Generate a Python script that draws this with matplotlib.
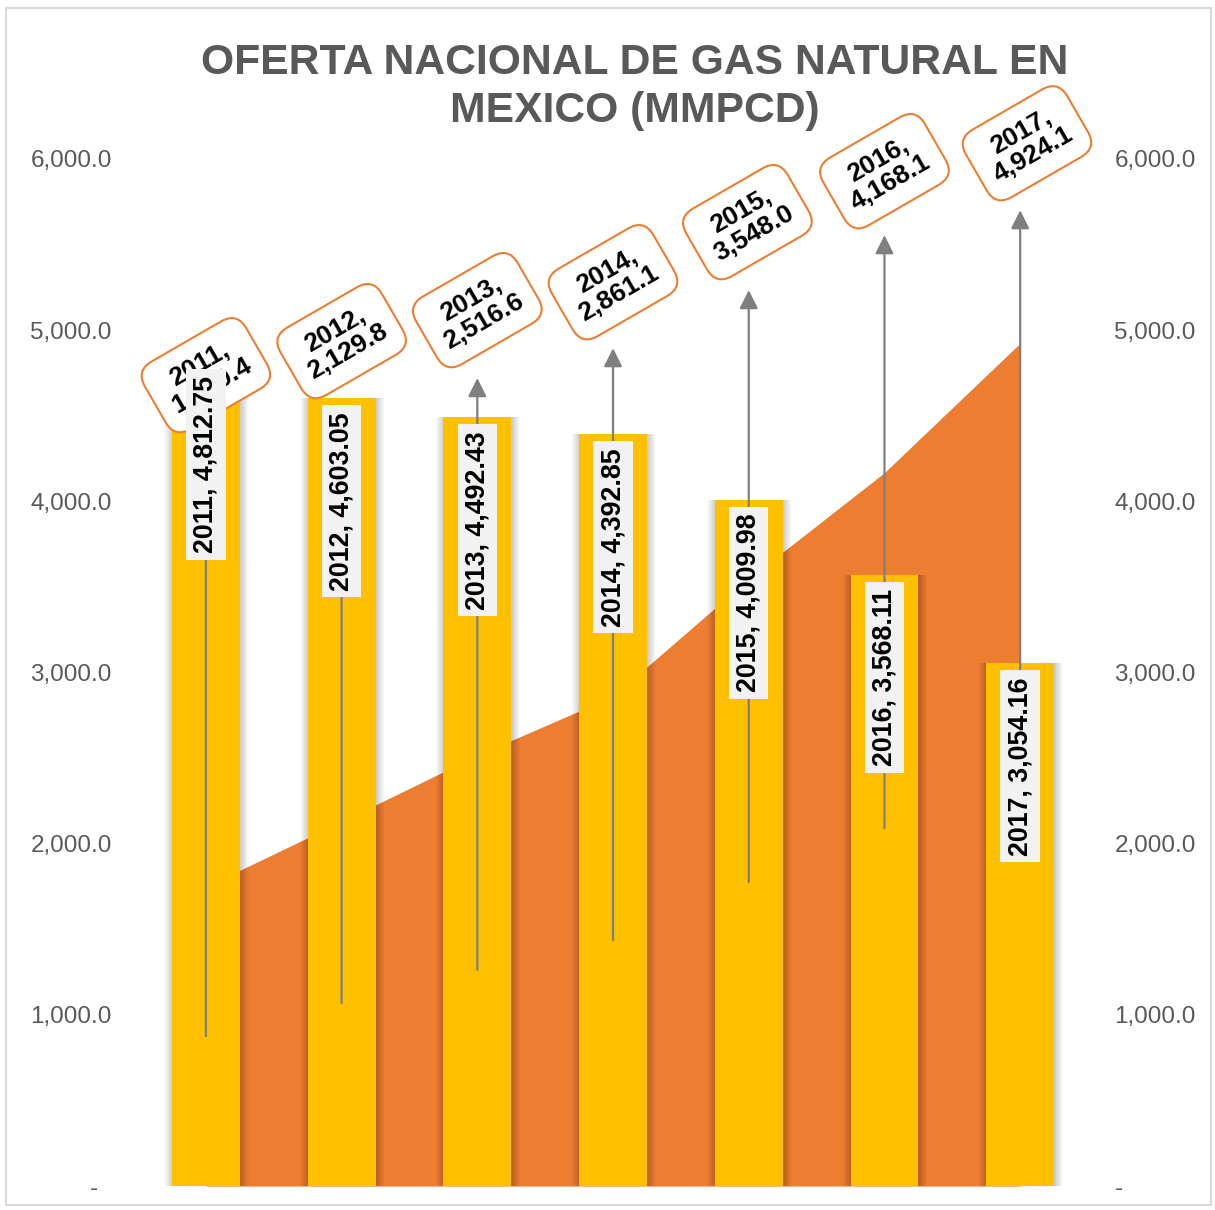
import numpy as np
import matplotlib.pyplot as plt
from matplotlib.ticker import FuncFormatter
from matplotlib.patches import Rectangle

plt.rcParams['font.family'] = ['Liberation Sans', 'DejaVu Sans']

# data
years = ['2011', '2012', '2013', '2014', '2015', '2016', '2017']
bar_values = [4812.75, 4603.05, 4492.43, 4392.85, 4009.98, 3568.11, 3054.16]
area_values = [1749.4, 2129.8, 2516.6, 2861.1, 3548.0, 4168.1, 4924.1]

# leader lines (value units) as drawn in the original
leader_low = [876, 1069, 1262, 1437, 1776, 2091, 2500]
leader_high = [None, None, 4720, 4895, 5234, 5555, 5701]
area_label_y = [4737, 4936, 5117, 5280, 5631, 5929, 6092]
area_label_dx = [0.0, 0.0, 0.0, 0.0, -0.01, 0.0, 0.05]

orange = '#ED7D31'
yellow = '#FFC000'
gray = '#595959'

fig = plt.figure(figsize=(12.15, 12.10), dpi=100)
fig.patches.append(Rectangle((0.005, 0.004), 0.992, 0.989, transform=fig.transFigure,
                             fill=False, ec='#D9D9D9', lw=1.5))
ax = fig.add_axes([0.1136, 0.0198, 0.7819, 0.8488])

x = np.arange(len(years))

# area series
ax.fill_between(x, area_values, 0, color=orange, lw=0, zorder=1)

# soft shadow behind bars
for k in range(10):
    ax.bar(x + 0.005, bar_values, width=0.5 + 0.012 * (k + 1), color='black',
           alpha=0.018, lw=0, zorder=2)
ax.bar(x, bar_values, width=0.5, color=yellow, lw=0, zorder=3)

# area labels
for i in range(len(years)):
    txt = f"{years[i]},\n{area_values[i]:,.1f}"
    ax.text(x[i] + area_label_dx[i], area_label_y[i], txt, rotation=30,
            rotation_mode='anchor', ha='center', va='center', multialignment='center',
            fontsize=19, fontweight='bold', color='black', zorder=4,
            linespacing=1.05, clip_on=False,
            bbox=dict(boxstyle='round,pad=0.55,rounding_size=0.7', fc='white',
                      ec=orange, lw=1.5))

# leader lines
for i in range(len(years)):
    hi = leader_high[i] if leader_high[i] is not None else bar_values[i] - 300
    style = '-|>' if leader_high[i] is not None else '-'
    ax.annotate('', xy=(x[i], hi), xytext=(x[i], leader_low[i]),
                arrowprops=dict(arrowstyle=style, color='#7F7F7F', lw=1.6,
                                mutation_scale=28, shrinkA=0, shrinkB=0),
                zorder=4.5, annotation_clip=False)

# bar labels
for i in range(len(years)):
    txt = f"{years[i]}, {bar_values[i]:,.2f}"
    ax.annotate(txt, xy=(x[i], bar_values[i]), xytext=(0, -10), textcoords='offset points',
                rotation=90, ha='center', va='top', fontsize=19.3, fontweight='bold',
                color='black', zorder=5,
                bbox=dict(boxstyle='square,pad=0.25', fc='#F2F2F2', ec='none'))

ax.set_xlim(-0.5, 6.5)
ax.set_ylim(0, 6000)
ax.set_yticks(range(0, 6001, 1000))
ax.yaxis.set_major_formatter(FuncFormatter(lambda v, p: '-  ' if v == 0 else f"{v:,.1f}"))
ax.set_xticks([])
for s in ax.spines.values():
    s.set_visible(False)
ax.tick_params(axis='y', length=0, pad=19, labelsize=17.5, labelcolor=gray)

ax2 = ax.twinx()
ax2.set_ylim(0, 6000)
ax2.set_yticks(range(0, 6001, 1000))
ax2.yaxis.set_major_formatter(FuncFormatter(lambda v, p: '-' if v == 0 else f"{v:,.1f}"))
for s in ax2.spines.values():
    s.set_visible(False)
ax2.tick_params(axis='y', length=0, pad=19, labelsize=17.5, labelcolor=gray)
ax2.patch.set_visible(False)

fig.text(0.5226, 0.928, 'OFERTA NACIONAL DE GAS NATURAL EN\nMEXICO (MMPCD)',
         ha='center', va='center', fontsize=30.7, fontweight='bold', color=gray,
         linespacing=1.27)

fig.savefig('out.png', dpi=100)
